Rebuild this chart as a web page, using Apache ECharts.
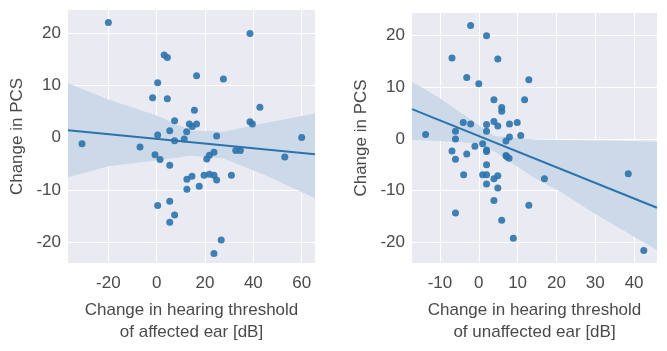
<!DOCTYPE html>
<html>
<head>
<meta charset="utf-8">
<title>PCS vs hearing threshold</title>
<script src="https://cdn.jsdelivr.net/npm/echarts@6/dist/echarts.min.js"></script>
<style>
    html, body { margin: 0; padding: 0; background: #fff; }
    #chart { width: 667px; height: 351px; }
</style>
</head>
<body>
<div id="chart"></div>
<script>
// left panel: affected ear
var affX = [-20.0, 38.6, 3.1, 4.4, 16.5, 27.6, 0.4, -1.7, 4.4, 42.7, 15.6, 7.4, 13.5, 16.5, 14.7, 38.6, 39.6, 5.4, 12.4, 0.4, 24.8, 60.0,
    -30.9, -6.9, 7.4, 11.4, -0.7, 1.4, 5.4, 23.7, 21.8, 20.7, 32.7, 34.6, 53.0, 12.5, 14.6, 12.5, 17.6, 19.6, 21.8, 23.7, 24.8, 30.9,
    0.4, 5.4, 7.4, 5.4, 26.7, 23.7];
var affY = [22.0, 19.9, 15.8, 15.3, 11.8, 11.2, 10.5, 7.6, 7.4, 5.8, 5.2, 3.2, 2.6, 2.6, 2.1, 3.0, 2.6, 1.3, 1.1, 0.5, 0.3, 0.0,
    -1.2, -1.8, -0.6, -0.3, -3.3, -4.2, -5.3, -2.8, -3.4, -4.1, -2.5, -2.5, -3.7, -8.0, -7.4, -9.9, -9.3, -7.2, -7.0, -7.2, -8.1, -7.2,
    -13.0, -12.2, -14.8, -16.2, -19.6, -22.2];
var affFitX = [-36.7, 65.5];
var affFitY = [1.4, -3.2];
var affBandX = [-36.7, -20, 0, 14, 27.5, 45, 65.5];
var affBandUp = [10.4, 7.3, 4.2, 1.4, 1.1, 2.8, 4.6];
var affBandLo = [-7.6, -5.5, -4.4, -3.5, -4.0, -7.2, -11.6];

// right panel: unaffected ear
var unaX = [-2.1, 2.0, -6.9, 4.9, -3.1, 12.9, 0.0, 3.9, 11.8, 5.9, 5.9, -4.0, -2.1, 2.0, 3.9, 4.9, 7.9, 9.9, -6.0, 2.0, -13.7, 7.9, 10.8, -6.0,
    7.0, -6.9, -6.0, -3.1, -1.0, 1.0, 2.0, 2.0, 7.0, 7.2, 7.8, 2.0, -3.9, 1.0, 2.0, 4.9, 3.9, 2.0, 4.9, 16.9, 38.5,
    3.9, 12.9, -6.0, 5.9, 8.9, 42.5];
var unaY = [22.0, 20.0, 15.7, 15.5, 11.9, 11.5, 10.7, 7.6, 7.6, 6.1, 5.4, 3.2, 2.9, 2.8, 3.4, 2.5, 2.9, 3.2, 1.5, 1.5, 0.9, 0.4, 0.7, 0.0,
    -0.4, -2.3, -3.9, -2.9, -1.4, -0.9, -2.1, -2.4, -3.2, -3.4, -3.7, -5.0, -6.9, -6.9, -6.9, -7.1, -7.7, -8.7, -9.5, -7.7, -6.7,
    -11.9, -12.8, -14.3, -15.7, -19.2, -21.6];
var unaFitX = [-17.2, 45.9];
var unaFitY = [5.8, -13.3];
var unaBandX = [-17.2, -10, -0.6, 4, 14.5, 21, 30, 45.9];
var unaBandUp = [11.1, 7.9, 3.0, 0.6, -0.1, -0.2, -0.3, -0.5];
var unaBandLo = [-0.2, -0.4, -0.8, -2.4, -7.6, -10.2, -14.5, -21.5];

var yTitle = 'Change in PCS';
var xTitles = ['Change in hearing threshold\nof affected ear [dB]', 'Change in hearing threshold\nof unaffected ear [dB]'];

var blue = '#2b73ad';
var bandColor = '#ccd9e9';
var textColor = '#4a4a4a';

function pairs(xs, ys) {
    var out = [];
    for (var i = 0; i < xs.length; i++) out.push([xs[i], ys[i]]);
    return out;
}

function xAxisOf(idx, min, max) {
    return {
        type: 'value', gridIndex: idx, min: min, max: max, splitNumber: 5,
        name: xTitles[idx], nameLocation: 'middle', nameGap: 36,
        nameTextStyle: { color: textColor, fontSize: 17, lineHeight: 22, fontFamily: 'Liberation Sans' },
        axisLine: { show: false }, axisTick: { show: false },
        axisLabel: { color: textColor, fontSize: 17, margin: 12, fontFamily: 'Liberation Sans', showMinLabel: false, showMaxLabel: false },
        splitLine: { show: true, showMinLine: false, showMaxLine: false, lineStyle: { color: '#fff', width: 1 } }
    };
}
function yAxisOf(idx) {
    return {
        type: 'value', gridIndex: idx, min: -24, max: 24.4, splitNumber: 5,
        name: yTitle, nameLocation: 'middle', nameGap: 42,
        nameTextStyle: { color: textColor, fontSize: 17, fontFamily: 'Liberation Sans' },
        axisLine: { show: false }, axisTick: { show: false },
        axisLabel: { color: textColor, fontSize: 17, margin: 7, fontFamily: 'Liberation Sans', showMinLabel: false, showMaxLabel: false },
        splitLine: { show: true, showMinLine: false, showMaxLine: false, lineStyle: { color: '#fff', width: 1 } }
    };
}

function panelSeries(idx, xs, ys, fitX, fitY, bx, bup, blo) {
    return [
        {
            // confidence band as one polygon through the axis scales
            type: 'custom', xAxisIndex: idx, yAxisIndex: idx, silent: true, z: 1, clip: true,
            encode: { x: 0, y: 1 },
            data: pairs(bx, bup),
            renderItem: function (params, api) {
                if (params.dataIndex !== 0) return;
                var pts = [];
                for (var i = 0; i < bx.length; i++) pts.push(api.coord([bx[i], bup[i]]));
                for (var j = bx.length - 1; j >= 0; j--) pts.push(api.coord([bx[j], blo[j]]));
                return { type: 'polygon', shape: { points: pts }, style: { fill: bandColor } };
            }
        },
        {
            type: 'line', xAxisIndex: idx, yAxisIndex: idx, z: 2, symbol: 'none',
            lineStyle: { color: blue, width: 2 }, data: pairs(fitX, fitY)
        },
        {
            type: 'scatter', xAxisIndex: idx, yAxisIndex: idx, z: 3, symbolSize: 7,
            itemStyle: { color: blue, opacity: 0.9 }, data: pairs(xs, ys)
        }
    ];
}

var myChart = echarts.init(document.getElementById('chart'), null, { renderer: 'canvas' });
var option = {
    animation: false,
    backgroundColor: '#fff',
    grid: [
        { left: 68, top: 10, width: 247, height: 253, show: true, backgroundColor: '#eaeaf2', borderWidth: 0 },
        { left: 412, top: 13, width: 245, height: 250, show: true, backgroundColor: '#eaeaf2', borderWidth: 0 }
    ],
    xAxis: [xAxisOf(0, -36.7, 65.5), xAxisOf(1, -17.2, 45.9)],
    yAxis: [yAxisOf(0), yAxisOf(1)],
    series: panelSeries(0, affX, affY, affFitX, affFitY, affBandX, affBandUp, affBandLo)
        .concat(panelSeries(1, unaX, unaY, unaFitX, unaFitY, unaBandX, unaBandUp, unaBandLo))
};
myChart.setOption(option);
window.addEventListener('resize', function () {
    myChart.resize();
});
</script>
</body>
</html>
